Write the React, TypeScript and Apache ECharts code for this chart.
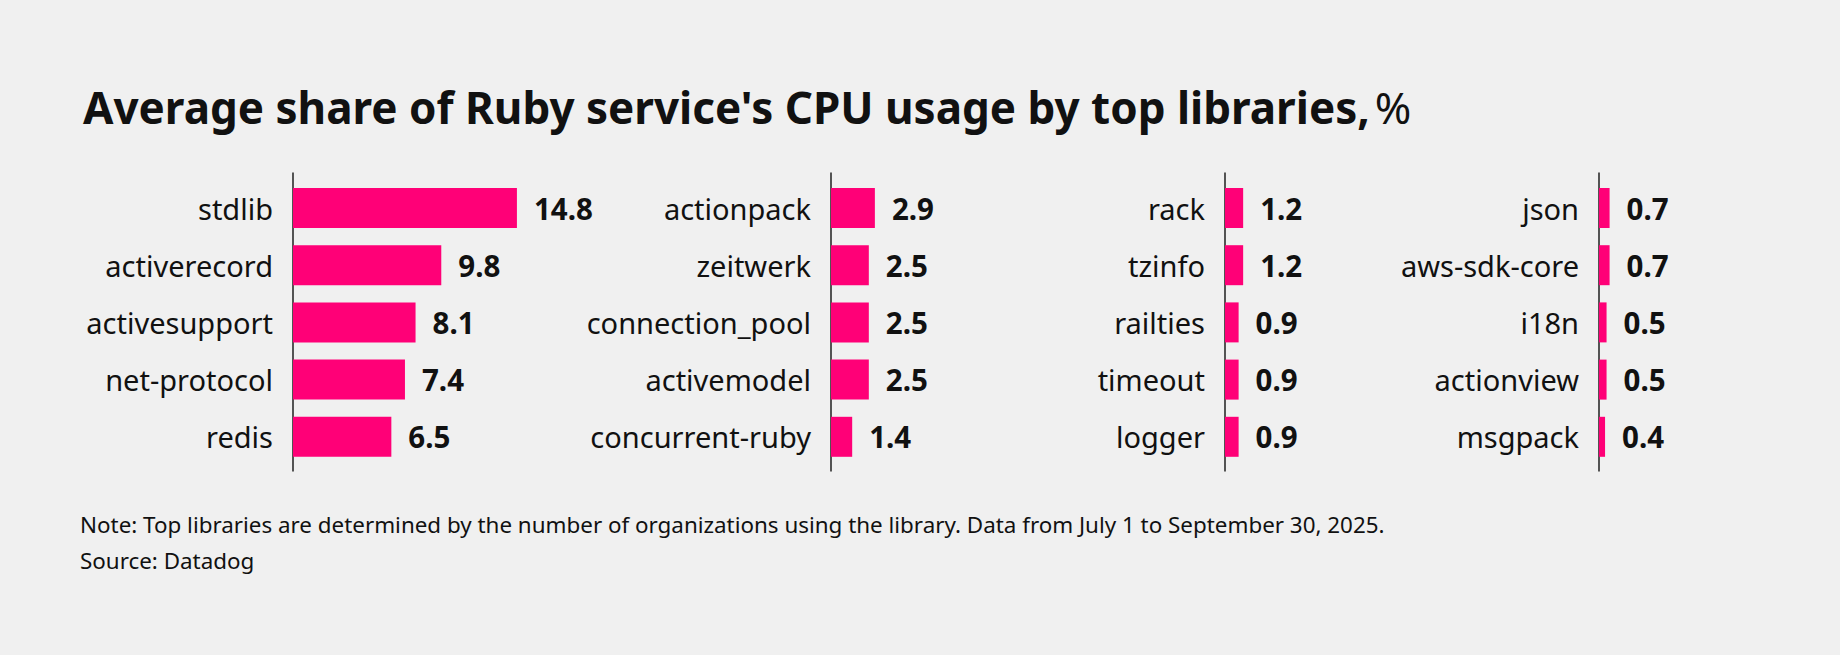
import { useEffect, useRef } from "react";
import * as echarts from "echarts";

const panel1Labels = ["stdlib", "activerecord", "activesupport", "net-protocol", "redis"];
const panel1Values = [14.8, 9.8, 8.1, 7.4, 6.5];

const panel2Labels = ["actionpack", "zeitwerk", "connection_pool", "activemodel", "concurrent-ruby"];
const panel2Values = [2.9, 2.5, 2.5, 2.5, 1.4];

const panel3Labels = ["rack", "tzinfo", "railties", "timeout", "logger"];
const panel3Values = [1.2, 1.2, 0.9, 0.9, 0.9];

const panel4Labels = ["json", "aws-sdk-core", "i18n", "actionview", "msgpack"];
const panel4Values = [0.7, 0.7, 0.5, 0.5, 0.4];

const panels = [
  { labels: panel1Labels, values: panel1Values },
  { labels: panel2Labels, values: panel2Values },
  { labels: panel3Labels, values: panel3Values },
  { labels: panel4Labels, values: panel4Values },
];

const titleText = "Average share of Ruby service's CPU usage by top libraries,";
const noteText =
  "Note: Top libraries are determined by the number of organizations using the library. Data from July 1 to September 30, 2025.";
const sourceText = "Source: Datadog";

// layout
const axisX = [293, 831, 1225, 1599];
const gridTop = 179.4;
const gridHeight = 286;
const pxPerUnit = 15.13;
const xMax = 15;
const font = "'Noto Sans', sans-serif";
const ink = "#111111";
const pink = "#FF0077";

function buildOption(): echarts.EChartsOption {
  const grid = panels.map((_, i) => ({
    left: axisX[i],
    top: gridTop,
    width: xMax * pxPerUnit,
    height: gridHeight,
    containLabel: false,
  }));

  const xAxis = panels.map((_, i) => ({
    type: "value" as const,
    gridIndex: i,
    min: 0,
    max: xMax,
    show: false,
  }));

  const yAxis = panels.map((p, i) => ({
    type: "category" as const,
    gridIndex: i,
    data: p.labels,
    inverse: true,
    axisLine: { show: false },
    axisTick: { show: false },
    splitLine: { show: false },
    axisLabel: {
      color: ink,
      fontSize: 29,
      fontFamily: font,
      margin: 20,
    },
  }));

  const series = panels.map((p, i) => ({
    type: "bar" as const,
    xAxisIndex: i,
    yAxisIndex: i,
    data: p.values,
    barWidth: 40,
    itemStyle: { color: pink },
    label: {
      show: true,
      position: "right" as const,
      distance: 17,
      color: ink,
      fontSize: 29.5,
      fontWeight: "bold" as const,
      fontFamily: font,
      formatter: (v: any) => Number(v.value).toFixed(1),
    },
  }));

  const axisLines = axisX.map((x) => ({
    type: "line" as const,
    shape: { x1: x, y1: 172.5, x2: x, y2: 471.5 },
    style: { stroke: ink, lineWidth: 1.4 },
    silent: true,
  }));

  return {
    animation: false,
    backgroundColor: "#F0F0F0",
    title: {
      left: 78,
      top: 80,
      text: `{b|${titleText}} {r|%}`,
      textStyle: {
        rich: {
          b: { fontSize: 44, fontWeight: "bold", fontFamily: font, color: ink },
          r: { fontSize: 44, fontWeight: "normal", fontFamily: font, color: ink },
        },
      },
    },
    grid,
    xAxis,
    yAxis,
    series,
    graphic: [
      ...axisLines,
      {
        type: "text",
        left: 80,
        top: 513,
        style: { text: noteText, fontSize: 22.4, fontFamily: font, fill: ink },
      },
      {
        type: "text",
        left: 80,
        top: 549,
        style: { text: sourceText, fontSize: 22.4, fontFamily: font, fill: ink },
      },
    ],
  };
}

export default function App() {
  const ref = useRef<HTMLDivElement | null>(null);

  useEffect(() => {
    document.body.style.margin = "0";
    document.body.style.background = "#F0F0F0";
    const el = ref.current;
    if (!el) return undefined;
    const chart = echarts.init(el, undefined, { renderer: "svg" });
    chart.setOption(buildOption());
    return () => {
      chart.dispose();
    };
  }, []);

  return <div ref={ref} style={{ width: 1840, height: 655 }} />;
}
